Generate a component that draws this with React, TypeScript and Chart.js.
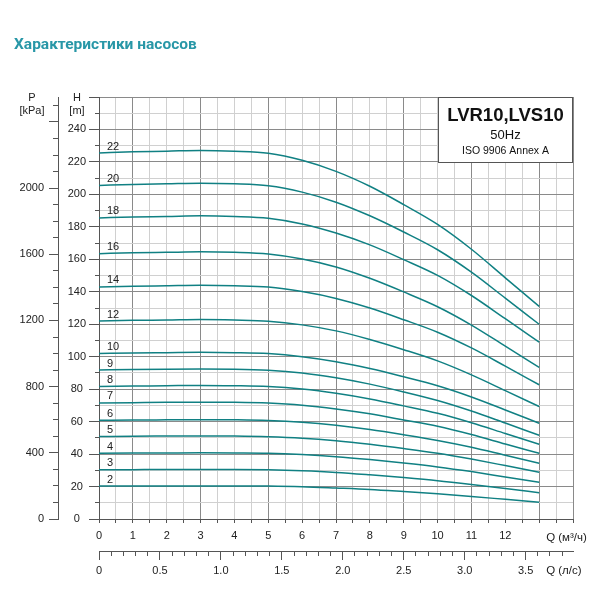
import React, { useEffect, useRef } from 'react';
import { Chart, registerables } from 'chart.js';

Chart.register(...registerables);

// ---------- data ----------
const titleText = 'Характеристики насосов';
const modelText = 'LVR10,LVS10';
const freqText = '50Hz';
const standardText = 'ISO 9906 Annex A';

const flowM3h = [0, 1, 2, 3, 4, 5, 6, 7, 8, 9, 10, 11, 12, 13];

const stageCounts = [2, 3, 4, 5, 6, 7, 8, 9, 10, 12, 14, 16, 18, 20, 22];

const head2 = [20.3, 20.4, 20.4, 20.4, 20.4, 20.3, 19.9, 19.1, 18.2, 16.9, 15.5, 13.9, 12.1, 10.3];
const head3 = [30.3, 30.4, 30.5, 30.5, 30.5, 30.3, 29.7, 28.7, 27.2, 25.5, 23.6, 21.3, 18.8, 16.2];
const head4 = [40.5, 40.6, 40.7, 40.8, 40.7, 40.5, 39.7, 38.4, 36.6, 34.5, 32.1, 29.2, 25.9, 22.6];
const head5 = [50.8, 51.0, 51.1, 51.2, 51.1, 50.7, 49.8, 48.2, 46.0, 43.4, 40.5, 36.9, 32.9, 28.8];
const head6 = [60.8, 61.0, 61.1, 61.2, 61.1, 60.7, 59.6, 57.7, 55.1, 51.9, 48.4, 44.2, 39.3, 34.4];
const head7 = [71.5, 71.7, 71.9, 72.0, 71.9, 71.4, 70.1, 67.8, 64.8, 61.0, 57.1, 52.0, 46.2, 40.5];
const head8 = [81.7, 81.9, 82.1, 82.3, 82.1, 81.6, 80.1, 77.5, 74.0, 69.7, 65.1, 59.3, 52.7, 46.1];
const head9 = [91.8, 92.1, 92.3, 92.4, 92.3, 91.7, 90.0, 87.0, 83.1, 78.3, 73.0, 66.5, 59.1, 51.6];
const head10 = [102.0, 102.3, 102.5, 102.7, 102.5, 101.9, 100.0, 96.9, 92.7, 87.6, 82.1, 75.2, 67.2, 59.0];
const head12 = [122.0, 122.4, 122.6, 122.9, 122.6, 121.9, 119.6, 115.9, 110.6, 104.3, 97.4, 88.8, 79.1, 69.3];
const head14 = [143.0, 143.4, 143.7, 144.0, 143.7, 142.9, 140.1, 135.9, 130.0, 122.8, 115.1, 105.4, 94.2, 82.7];
const head16 = [163.5, 164.0, 164.3, 164.6, 164.3, 163.3, 160.2, 155.3, 148.3, 139.9, 130.8, 119.5, 106.5, 93.4];
const head18 = [185.5, 186.1, 186.4, 186.8, 186.4, 185.3, 181.8, 176.2, 168.9, 159.8, 150.1, 137.7, 123.4, 109.0];
const head20 = [205.5, 206.1, 206.5, 206.9, 206.5, 205.3, 201.4, 195.2, 186.8, 176.8, 165.9, 152.1, 136.1, 120.0];
const head22 = [225.5, 226.2, 226.6, 227.1, 226.6, 225.3, 221.0, 214.2, 205.0, 193.7, 181.5, 166.2, 148.6, 131.0];

const headSeries = [head2, head3, head4, head5, head6, head7, head8, head9, head10, head12, head14, head16, head18, head20, head22];

// axis ranges and tick labels
const flowMax = 14;
const headMax = 260;
const kPaPerMetre = 9.81;
const m3hPerLs = 3.6;

const headTickLabels = [0, 20, 40, 60, 80, 100, 120, 140, 160, 180, 200, 220, 240];
const pressureTickLabels = [0, 400, 800, 1200, 1600, 2000];
const flowTickLabels = [0, 1, 2, 3, 4, 5, 6, 7, 8, 9, 10, 11, 12];
const flowLsTickLabels = [0, 0.5, 1.0, 1.5, 2.0, 2.5, 3.0, 3.5];

// ---------- styles ----------
const FONT = '"Liberation Sans", Arial, Helvetica, sans-serif';
const TITLE_FONT = 'Roboto, "Liberation Sans", Arial, sans-serif';
const CURVE_COLOR = 'rgb(16,128,131)';
const TITLE_COLOR = '#2897a7';
const GRID_LIGHT = '#d0d0d0';
const GRID_DARK = '#8a8a8a';
const AXIS_COLOR = '#555555';
const TEXT_COLOR = '#222222';

const near = (a: number, b: number) => Math.abs(a - b) < 1e-6;

const decorPlugin = {
  id: 'decor',
  afterDraw(chart: any) {
    const { ctx, chartArea: ca, scales } = chart;
    const xs = scales.x;
    const ys = scales.y;
    ctx.save();

    // page title
    ctx.fillStyle = TITLE_COLOR;
    ctx.font = `bold 15.5px ${TITLE_FONT}`;
    ctx.textAlign = 'left';
    ctx.textBaseline = 'alphabetic';
    ctx.fillText(titleText, 14, 48.5);

    // axis titles
    ctx.fillStyle = TEXT_COLOR;
    ctx.font = `11px ${FONT}`;
    ctx.textAlign = 'center';
    ctx.textBaseline = 'middle';
    const pCx = scales.yP.right - 26;
    const hCx = ys.right - 22;
    ctx.fillText('P', pCx, ca.top + 0.5);
    ctx.fillText('[kPa]', pCx, ca.top + 13.5);
    ctx.fillText('H', hCx, ca.top + 0.5);
    ctx.fillText('[m]', hCx, ca.top + 13.5);

    ctx.textAlign = 'left';
    ctx.font = `11.5px ${FONT}`;
    const qx = xs.getPixelForValue(13) + 7;
    ctx.fillText('Q (м³/ч)', qx, xs.top + 18.5);
    ctx.fillText('Q (л/с)', qx, scales.xls.top + 19.5);

    // curve stage labels
    ctx.font = `11px ${FONT}`;
    ctx.textAlign = 'left';
    chart.data.datasets.forEach((ds: any) => {
      const first = ds.data[0];
      const px = xs.getPixelForValue(first.x) + 8;
      const py = ys.getPixelForValue(first.y) - 6.5;
      ctx.fillText(ds.label, px, py);
    });

    // model box
    const bx0 = Math.round(xs.getPixelForValue(10)) + 0.5;
    const bx1 = Math.round(ca.right) - 0.5;
    const by0 = Math.round(ca.top) + 0.5;
    const by1 = Math.round(ys.getPixelForValue(220)) + 0.5;
    ctx.fillStyle = '#ffffff';
    ctx.fillRect(bx0, by0, bx1 - bx0, by1 - by0);
    ctx.strokeStyle = AXIS_COLOR;
    ctx.lineWidth = 1;
    ctx.strokeRect(bx0, by0, bx1 - bx0, by1 - by0);
    const bcx = (bx0 + bx1) / 2;
    ctx.fillStyle = '#111111';
    ctx.textAlign = 'center';
    ctx.font = `bold 18.5px ${FONT}`;
    ctx.fillText(modelText, bcx, by0 + 18);
    ctx.font = `13px ${FONT}`;
    ctx.fillText(freqText, bcx, by0 + 38);
    ctx.font = `10.5px ${FONT}`;
    ctx.fillText(standardText, bcx, by0 + 53.5);

    ctx.restore();
  },
};

export default function App() {
  const canvasRef = useRef<HTMLCanvasElement | null>(null);

  useEffect(() => {
    if (!canvasRef.current) return;
    Chart.defaults.font.family = FONT;

    const datasets = headSeries.map((series, i) => ({
      label: String(stageCounts[i]),
      data: series.map((h, j) => ({ x: flowM3h[j], y: h })),
      borderColor: CURVE_COLOR,
      backgroundColor: CURVE_COLOR,
      borderWidth: 1.5,
      pointRadius: 0,
      pointHoverRadius: 0,
      fill: false,
      showLine: true,
      cubicInterpolationMode: 'monotone' as const,
      xAxisID: 'x',
      yAxisID: 'y',
    }));

    const tickFont = { size: 11, family: FONT };

    const chart = new Chart(canvasRef.current, {
      type: 'scatter',
      data: { datasets },
      plugins: [decorPlugin],
      options: {
        responsive: false,
        animation: false,
        events: [],
        layout: { padding: { left: 0, top: 97, right: 27, bottom: 9 } },
        plugins: {
          legend: { display: false },
          tooltip: { enabled: false },
          title: { display: false },
        },
        scales: {
          x: {
            type: 'linear',
            position: 'bottom',
            weight: 0,
            min: 0,
            max: flowMax,
            afterFit: (s: any) => { s.height = 32; },
            ticks: {
              stepSize: 0.5,
              autoSkip: false,
              maxRotation: 0,
              padding: 6,
              color: TEXT_COLOR,
              font: tickFont,
              callback: (v: any) => (flowTickLabels.some((t) => near(t, Number(v))) ? String(Number(v)) : ''),
            },
            grid: {
              lineWidth: 1,
              tickLength: 4,
              tickColor: AXIS_COLOR,
              color: (c: any) => {
                const v = c.tick ? c.tick.value : 0;
                return near(v, 0) || near(v, flowMax) || (Number.isInteger(v) && v % 2 === 1) ? GRID_DARK : GRID_LIGHT;
              },
            },
            border: { display: true, color: AXIS_COLOR },
          },
          xls: {
            type: 'linear',
            position: 'bottom',
            weight: 1,
            min: 0,
            max: flowMax / m3hPerLs,
            afterFit: (s: any) => { s.height = 40; },
            ticks: {
              stepSize: 0.1,
              autoSkip: false,
              includeBounds: false,
              maxRotation: 0,
              padding: 4,
              color: TEXT_COLOR,
              font: tickFont,
              callback: (v: any) => {
                const n = Number(v);
                const hit = flowLsTickLabels.find((t) => near(t, n));
                if (hit === undefined) return '';
                return hit === 0 ? '0' : hit.toFixed(1);
              },
            },
            grid: {
              drawOnChartArea: false,
              tickLength: 9,
              tickColor: AXIS_COLOR,
              tickBorderDash: (c: any) => {
                const v = c.tick ? c.tick.value : 0;
                return Math.round(v * 10) % 5 === 0 ? [] : [4, 100];
              },
            },
            border: { display: true, color: AXIS_COLOR },
          },
          y: {
            type: 'linear',
            position: 'left',
            weight: 0,
            min: 0,
            max: headMax,
            afterFit: (s: any) => { s.width = 41; },
            ticks: {
              stepSize: 10,
              autoSkip: false,
              crossAlign: 'center',
              padding: 3,
              color: TEXT_COLOR,
              font: tickFont,
              callback: (v: any) => (headTickLabels.includes(Math.round(Number(v))) ? String(Math.round(Number(v))) : ''),
            },
            grid: {
              lineWidth: 1,
              tickLength: 10,
              tickColor: AXIS_COLOR,
              color: (c: any) => {
                const v = c.tick ? Math.round(c.tick.value) : 0;
                return v % 20 === 0 ? GRID_DARK : GRID_LIGHT;
              },
              tickBorderDash: (c: any) => {
                const v = c.tick ? Math.round(c.tick.value) : 0;
                return v % 20 === 0 ? [] : [0, 6, 4, 100];
              },
            },
            border: { display: true, color: AXIS_COLOR },
          },
          yP: {
            type: 'linear',
            position: 'left',
            weight: 1,
            min: 0,
            max: headMax * kPaPerMetre,
            afterFit: (s: any) => { s.width = 58; },
            ticks: {
              stepSize: 100,
              autoSkip: false,
              includeBounds: false,
              padding: 5,
              color: TEXT_COLOR,
              font: tickFont,
              callback: (v: any) => (pressureTickLabels.includes(Math.round(Number(v))) ? String(Math.round(Number(v))) : ''),
            },
            grid: {
              drawOnChartArea: false,
              tickLength: 9,
              tickColor: AXIS_COLOR,
              tickBorderDash: (c: any) => {
                const v = c.tick ? Math.round(c.tick.value) : 0;
                return v % 400 === 0 ? [] : [0, 4, 5, 100];
              },
            },
            border: { display: true, color: AXIS_COLOR },
          },
        },
      } as any,
    });

    return () => chart.destroy();
  }, []);

  return (
    <div style={{ position: 'absolute', left: 0, top: 0, width: 600, height: 600, background: '#ffffff' }}>
      <canvas ref={canvasRef} width={600} height={600} style={{ width: 600, height: 600, display: 'block' }} />
    </div>
  );
}
